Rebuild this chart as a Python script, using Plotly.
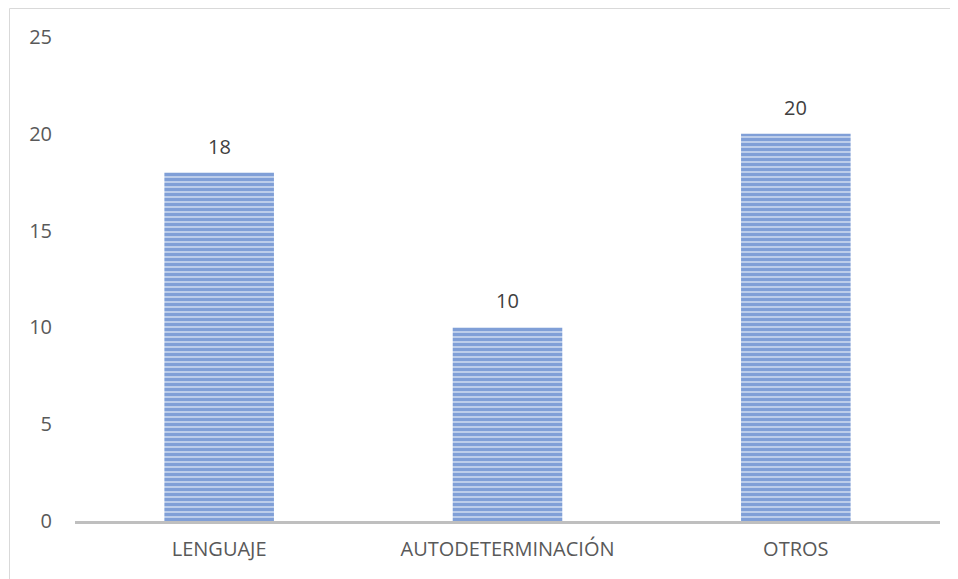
import plotly.graph_objects as go

categories = ["LENGUAJE", "AUTODETERMINACIÓN", "OTROS"]
values = [18, 10, 20]
y_ticks = [0, 5, 10, 15, 20, 25]

fig = go.Figure()
fig.add_trace(
    go.Bar(
        x=categories,
        y=values,
        width=0.38,
        marker=dict(
            color="#bccdea",
            line=dict(width=0),
            pattern=dict(shape="-", fgcolor="#4472c4", bgcolor="#bccdea",
                         size=5, solidity=0.6),
        ),
    )
)

# value labels sit a bit higher above the bars than plotly's outside text
for cat, val in zip(categories, values):
    fig.add_annotation(x=cat, y=val, text=str(val), showarrow=False,
                       yanchor="bottom", yshift=11,
                       font=dict(size=20, color="#404040"))

# page body has an 8px margin, so the figure is sized to the visible area
fig.update_layout(
    width=950,
    height=571,
    margin=dict(l=67, r=18, t=29, b=58),
    paper_bgcolor="white",
    plot_bgcolor="white",
    showlegend=False,
    font=dict(family="Open Sans", size=20, color="#595959"),
    shapes=[
        # chart frame
        dict(type="rect", xref="paper", yref="paper",
             x0=(1.5 - 67) / 865, x1=1.2, y0=-0.3, y1=(484 + 28.5) / 484,
             line=dict(color="#d9d9d9", width=1), layer="below"),
    ],
)
fig.update_xaxes(
    range=[-0.5, 2.5],
    showgrid=False,
    showline=True,
    linecolor="#bfbfbf",
    linewidth=3,
    ticks="outside",
    ticklen=8,
    tickcolor="rgba(0,0,0,0)",
    tickfont=dict(size=20, color="#595959"),
)
fig.update_yaxes(
    range=[0, 25],
    tickvals=y_ticks,
    showgrid=False,
    zeroline=False,
    showline=False,
    ticks="outside",
    ticklen=18,
    tickcolor="rgba(0,0,0,0)",
    tickfont=dict(size=20, color="#595959"),
)

fig.write_html("out.html")
